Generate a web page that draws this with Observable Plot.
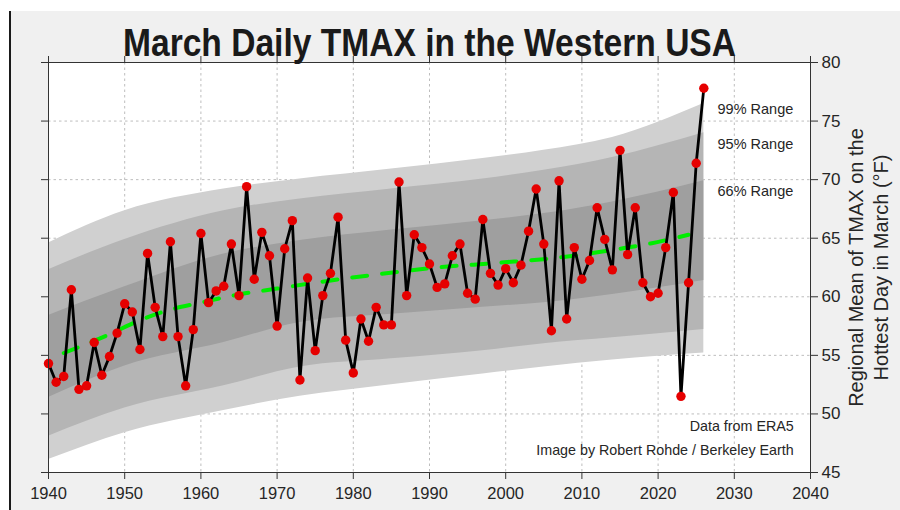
<!DOCTYPE html>
<html>
<head>
<meta charset="utf-8">
<script src="https://cdn.jsdelivr.net/npm/d3@7"></script>
<script src="https://cdn.jsdelivr.net/npm/@observablehq/plot@0.6"></script>
<style>
  html, body { margin: 0; padding: 0; background: #ffffff; }
  #wrap { position: relative; width: 900px; height: 510px; overflow: hidden; }
  #bg { position: absolute; left: 9px; top: 11px; right: 0; bottom: 0; background: #f0f0f0; border-left: 2px solid #1a1a1a; }
  #chart { position: absolute; left: 0; top: 0; }
</style>
</head>
<body>
<div id="wrap"><div id="bg"></div><div id="chart"></div></div>
<script>
// ---- Data ----
const titleText = "March Daily TMAX in the Western USA";
const axisLabelText = "Regional Mean of TMAX on the\nHottest Day in March (°F)";

const years = [1940,1941,1942,1943,1944,1945,1946,1947,1948,1949,
  1950,1951,1952,1953,1954,1955,1956,1957,1958,1959,
  1960,1961,1962,1963,1964,1965,1966,1967,1968,1969,
  1970,1971,1972,1973,1974,1975,1976,1977,1978,1979,
  1980,1981,1982,1983,1984,1985,1986,1987,1988,1989,
  1990,1991,1992,1993,1994,1995,1996,1997,1998,1999,
  2000,2001,2002,2003,2004,2005,2006,2007,2008,2009,
  2010,2011,2012,2013,2014,2015,2016,2017,2018,2019,
  2020,2021,2022,2023,2024,2025,2026];
const tmax = [54.3,52.7,53.2,60.6,52.1,52.4,56.1,53.3,54.9,56.9,
  59.4,58.7,55.5,63.7,59.1,56.6,64.7,56.6,52.4,57.2,
  65.4,59.5,60.5,60.9,64.5,60.1,69.4,61.5,65.5,63.5,
  57.5,64.1,66.5,52.9,61.6,55.4,60.1,62.0,66.8,56.3,
  53.5,58.1,56.2,59.1,57.6,57.6,69.8,60.1,65.3,64.2,
  62.8,60.8,61.1,63.5,64.5,60.3,59.8,66.6,62.0,61.0,
  62.4,61.2,62.7,65.6,69.2,64.5,57.1,69.9,58.1,64.2,
  61.5,63.1,67.6,64.9,62.3,72.5,63.6,67.6,61.2,60.0,
  60.3,64.2,68.9,51.5,61.2,71.4,77.8];

const bandYears = [1940, 1950, 1963, 1973, 1985, 1997, 2005, 2014, 2026];
const lower99 = [46.1, 48.4, 50.3, 51.5, 52.5, 53.4, 54.0, 54.6, 55.2];
const lower95 = [48.1, 50.5, 52.4, 54.0, 54.7, 55.4, 56.0, 56.5, 57.2];
const lower66 = [51.4, 54.1, 56.1, 57.8, 58.5, 59.1, 59.5, 60.2, 61.4];
const upper66 = [58.4, 60.85, 63.65, 64.8, 65.7, 66.5, 67.1, 68.1, 69.9];
const upper95 = [62.3, 64.9, 67.35, 68.35, 69.2, 70.05, 70.8, 71.9, 74.0];
const upper99 = [64.6, 67.35, 69.2, 70.05, 70.9, 71.8, 72.5, 73.6, 76.5];

const trendYears = [1942, 1948, 1952, 1956, 1960, 1965, 1970, 1975, 1983, 1991, 1999, 2007, 2015, 2019, 2024];
const trendValues = [55.2, 56.8, 58.0, 58.9, 59.5, 60.2, 60.7, 61.2, 61.9, 62.5, 62.9, 63.35, 64.1, 64.55, 65.3];

const xTicks = [1940, 1950, 1960, 1970, 1980, 1990, 2000, 2010, 2020, 2030, 2040];
const yTicks = [45, 50, 55, 60, 65, 70, 75, 80];

const rangeLabels = ["99% Range", "95% Range", "66% Range"];
const creditLines = ["Data from ERA5", "Image by Robert Rohde / Berkeley Earth"];

// ---- Tables built from the arrays ----
const rows = years.map((year, i) => ({year, tmax: tmax[i]}));
const bands = bandYears.map((year, i) => ({
  year, l99: lower99[i], l95: lower95[i], l66: lower66[i],
  u66: upper66[i], u95: upper95[i], u99: upper99[i]
}));
const trend = trendYears.map((year, i) => ({year, value: trendValues[i]}));

const font = "'Liberation Sans', Arial, Helvetica, sans-serif";
const ink = "#262626";

const plot = Plot.plot({
  width: 900,
  height: 510,
  marginLeft: 48,
  marginRight: 90,
  marginTop: 62,
  marginBottom: 38,
  x: {domain: [1940, 2040]},
  y: {domain: [45, 80]},
  style: {background: "transparent", fontFamily: font, color: ink, overflow: "visible"},
  marks: [
    Plot.frame({fill: "white", stroke: null}),
    Plot.gridX(xTicks, {stroke: "#bdbdbd", strokeOpacity: 1, strokeDasharray: "2.5,3"}),
    Plot.gridY(yTicks, {stroke: "#bdbdbd", strokeOpacity: 1, strokeDasharray: "2.5,3"}),
    Plot.areaY(bands, {x: "year", y1: "l99", y2: "u99", fill: "#d0d0d0", curve: "monotone-x"}),
    Plot.areaY(bands, {x: "year", y1: "l95", y2: "u95", fill: "#b5b5b5", curve: "monotone-x"}),
    Plot.areaY(bands, {x: "year", y1: "l66", y2: "u66", fill: "#9f9f9f", curve: "monotone-x"}),
    Plot.line(trend, {x: "year", y: "value", stroke: "#00ee00", strokeWidth: 4, strokeDasharray: "15,15", curve: "monotone-x"}),
    Plot.line(rows, {x: "year", y: "tmax", stroke: "black", strokeWidth: 2.8}),
    Plot.dot(rows, {x: "year", y: "tmax", r: 4.7, fill: "#e60000", stroke: null}),
    Plot.text(rangeLabels, {
      x: () => 2027.8, y: (d, i) => [75.96, 72.97, 68.97][i],
      text: d => d, textAnchor: "start", fontSize: 14.5, fill: ink
    }),
    Plot.text(creditLines, {
      x: () => 2037.8, y: (d, i) => [48.97, 46.9][i],
      text: d => d, textAnchor: "end", fontSize: 14.3, fill: ink
    }),
    Plot.frame({stroke: "#333333", strokeWidth: 1}),
    Plot.axisX({anchor: "bottom", ticks: xTicks, tickSize: 7, tickPadding: 8, fontSize: 16.5, tickFormat: d3.format("d"), label: null, stroke: "#333333"}),
    Plot.axisX({anchor: "top", ticks: xTicks, tickSize: 7, fill: "none", tickFormat: d3.format("d"), label: null, stroke: "#333333"}),
    Plot.axisY({anchor: "right", ticks: yTicks, tickSize: 7, tickPadding: 4, fontSize: 17, tickFormat: d3.format("d"), label: null, stroke: "#333333"}),
    Plot.axisY({anchor: "left", ticks: yTicks, tickSize: 7, fill: "none", tickFormat: d3.format("d"), label: null, stroke: "#333333"}),
    Plot.text([axisLabelText], {
      frameAnchor: "right", dx: 57, rotate: -90, text: d => d,
      textAnchor: "middle", lineAnchor: "middle", lineHeight: 1.28,
      fontSize: 20, fill: ink
    }),
    Plot.text([titleText], {
      frameAnchor: "top", dy: -7, text: d => d, lineAnchor: "bottom",
      fontSize: 38, fontWeight: "bold", fill: "#1a1a1a"
    })
  ]
});

document.getElementById("chart").appendChild(plot);

// Condense the title to the reference's narrow width
d3.select(plot).selectAll("text").each(function () {
  if (this.textContent === titleText) {
    this.setAttribute("textLength", 613);
    this.setAttribute("lengthAdjust", "spacingAndGlyphs");
  }
});
</script>
</body>
</html>
